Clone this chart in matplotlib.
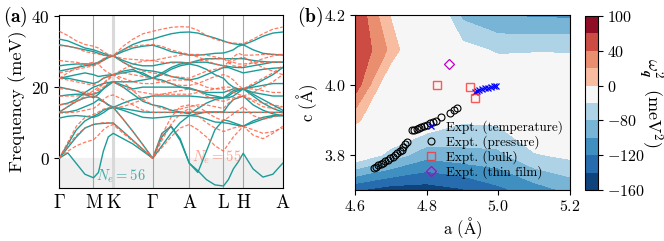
import numpy as np
import matplotlib
matplotlib.use('Agg')
import matplotlib.pyplot as plt

plt.rcParams['font.family'] = 'serif'
plt.rcParams['font.serif'] = ['cmr10', 'DejaVu Serif']
plt.rcParams['mathtext.fontset'] = 'cm'
plt.rcParams['axes.formatter.use_mathtext'] = True
plt.rcParams['axes.linewidth'] = 0.8

# ---------------- (a) phonon dispersion ----------------
kpt_labels = [r'$\Gamma$', 'M', 'K', r'$\Gamma$', 'A', 'L', 'H', 'A']
seg_len = [0.740, 0.427, 0.855, 0.791, 0.740, 0.427, 0.855]  # path lengths (1/A)

# values at 5 points per segment (ends shared): G-M, M-K, K-G, G-A, A-L, L-H, H-A
bands_56 = [
    [0, 1.5, -1.5, -4.5, -5.5, -4.0, 2.0, 6.0, 7.0, 5.5, 4.0, 2.0, 0, 6.0, 9.0, 5.5, -1.4, -3.5, -6.0, -7.5, -7.8, -6.0, -3.0, -1.0, 1.4, -3.0, -5.3, -4.5, -1.4],
    [0, 3.0, 6.0, 8.5, 9.5, 9.7, 9.8, 9.9, 9.9, 7.5, 5.0, 2.5, 0, 3.5, 7.0, 10.0, 12.0, 11.8, 11.0, 10.2, 10.0, 9.8, 9.5, 9.2, 9.0, 10.0, 11.0, 11.8, 12.0],
    [0, 4.0, 8.0, 10.5, 11.8, 12.5, 13.5, 14.0, 14.3, 11.0, 7.5, 3.8, 0, 7.0, 9.0, 5.0, -1.4, -4.0, 2.0, 8.0, 10.8, 10.5, 10.0, 9.5, 9.0, 10.5, 11.5, 12.0, 12.0],
    [11.3, 11.8, 12.0, 11.8, 11.5, 12.0, 12.8, 13.8, 14.3, 13.5, 12.5, 11.5, 11.3, 11.5, 11.8, 12.0, 12.0, 12.5, 13.0, 13.0, 13.0, 15.0, 16.5, 17.0, 17.5, 15.0, 13.5, 12.5, 12.0],
    [12.9, 13.0, 13.5, 14.5, 15.5, 16.5, 16.0, 15.0, 14.3, 14.0, 13.5, 13.0, 12.9, 12.9, 12.9, 12.9, 12.9, 12.9, 12.9, 12.9, 12.9, 12.9, 12.9, 12.9, 12.9, 12.9, 12.9, 12.9, 12.9],
    [13.0, 14.5, 16.0, 17.0, 17.5, 17.0, 16.0, 15.0, 14.3, 15.5, 16.5, 17.0, 17.5, 17.5, 17.5, 17.5, 17.5, 17.3, 17.0, 17.0, 17.0, 17.5, 18.5, 19.0, 19.5, 18.5, 18.0, 17.5, 17.5],
    [15.0, 15.5, 16.5, 18.5, 20.0, 20.5, 21.0, 21.3, 21.5, 20.0, 18.0, 16.0, 15.0, 14.5, 13.5, 13.0, 12.5, 14.0, 15.5, 16.5, 17.0, 18.0, 19.0, 19.3, 19.5, 17.5, 15.5, 14.0, 13.0],
    [17.5, 17.8, 18.0, 18.0, 18.0, 18.5, 19.5, 20.5, 21.5, 20.5, 19.5, 20.0, 20.0, 20.0, 20.0, 20.0, 19.8, 19.0, 18.5, 18.5, 18.5, 19.0, 19.5, 19.5, 19.5, 20.0, 20.5, 21.0, 21.0],
    [20.0, 19.5, 19.0, 18.0, 17.0, 18.0, 19.5, 21.0, 21.5, 21.5, 21.5, 22.0, 22.5, 23.5, 25.0, 26.0, 26.5, 26.0, 25.0, 23.5, 22.5, 21.0, 20.0, 19.5, 19.5, 20.5, 22.0, 23.5, 25.5],
    [22.5, 22.5, 22.0, 21.5, 21.0, 21.5, 22.5, 23.0, 23.5, 24.0, 24.5, 24.0, 22.5, 22.0, 21.0, 20.0, 19.5, 19.0, 18.0, 17.5, 17.0, 17.0, 17.5, 18.5, 19.5, 18.0, 16.5, 15.0, 13.5],
    [22.5, 23.0, 23.5, 24.0, 23.5, 23.0, 23.2, 23.4, 23.5, 24.5, 25.0, 23.5, 22.5, 24.0, 25.5, 26.5, 26.8, 27.0, 27.0, 26.5, 26.0, 25.8, 25.6, 25.5, 25.5, 26.0, 26.5, 27.0, 27.0],
    [24.5, 25.0, 25.5, 26.0, 26.3, 26.8, 27.5, 28.3, 28.8, 27.0, 25.5, 24.8, 24.5, 24.0, 23.0, 22.5, 22.0, 22.5, 23.5, 24.5, 25.5, 25.5, 25.0, 24.5, 24.0, 24.5, 25.0, 25.3, 25.5],
    [26.0, 26.3, 26.5, 26.5, 26.5, 27.0, 27.8, 28.5, 28.8, 27.5, 26.5, 26.0, 26.0, 26.5, 27.0, 27.0, 26.8, 27.5, 28.0, 28.0, 28.0, 28.0, 28.0, 28.0, 28.0, 27.5, 27.2, 27.0, 27.0],
    [31.9, 31.5, 31.0, 30.5, 30.0, 29.5, 29.0, 28.8, 28.8, 30.0, 31.0, 31.5, 31.8, 31.0, 30.0, 29.5, 29.0, 29.0, 29.2, 29.5, 29.6, 30.0, 30.5, 31.5, 31.9, 30.5, 29.5, 29.2, 29.0],
    [33.5, 33.0, 32.0, 31.0, 30.5, 30.0, 29.5, 29.0, 28.8, 30.5, 32.0, 33.0, 33.5, 34.3, 35.0, 35.4, 35.5, 35.2, 34.5, 33.8, 33.0, 32.5, 32.2, 32.0, 31.9, 33.0, 34.3, 35.2, 35.5],
]
bands_55 = [
    [0, 2.0, 3.5, 4.5, 5.2, 6.5, 8.0, 9.0, 9.5, 7.0, 4.8, 2.4, 0, 3.0, 6.0, 8.5, 9.5, 8.0, 6.0, 3.5, 2.0, 4.0, 6.0, 7.5, 9.0, 6.5, 5.5, 7.0, 9.0],
    [0, 3.5, 6.5, 8.5, 9.5, 9.8, 10.0, 10.0, 9.9, 7.5, 5.0, 2.5, 0, 5.0, 9.5, 12.5, 14.0, 12.0, 10.0, 8.5, 7.5, 8.0, 8.5, 8.8, 9.0, 8.0, 7.0, 7.5, 8.5],
    [0, 4.5, 9.0, 11.5, 12.3, 13.0, 13.8, 14.2, 14.3, 11.0, 7.5, 3.8, 0, 6.5, 11.5, 14.5, 15.0, 14.5, 13.0, 11.5, 10.5, 11.5, 12.5, 13.5, 14.5, 12.0, 11.0, 11.5, 12.5],
    [12.7, 12.8, 13.0, 13.5, 14.0, 15.0, 16.5, 17.5, 17.8, 16.5, 15.0, 13.5, 12.9, 12.9, 12.9, 12.9, 12.9, 12.9, 12.9, 12.9, 12.9, 12.9, 12.9, 12.9, 12.9, 12.9, 12.9, 12.9, 12.9],
    [12.9, 14.5, 16.0, 17.0, 17.5, 17.0, 16.0, 15.0, 14.3, 14.5, 15.5, 16.5, 17.5, 18.0, 18.5, 19.0, 19.5, 19.0, 17.5, 16.5, 16.0, 16.5, 17.0, 17.3, 17.5, 16.5, 15.5, 15.0, 14.5],
    [15.0, 15.3, 16.0, 17.5, 19.0, 20.0, 21.0, 22.0, 23.5, 21.5, 19.0, 16.5, 15.0, 14.0, 13.5, 13.8, 14.5, 15.0, 15.0, 14.5, 14.0, 15.5, 16.5, 17.0, 17.5, 16.0, 14.5, 14.0, 14.5],
    [17.5, 17.5, 17.5, 17.8, 18.0, 19.0, 20.0, 21.0, 21.5, 20.0, 19.0, 18.5, 18.0, 18.0, 18.0, 18.0, 18.0, 18.5, 19.0, 19.5, 20.0, 20.0, 19.8, 19.6, 19.5, 19.5, 19.0, 18.5, 18.5],
    [19.5, 19.5, 19.0, 18.5, 18.0, 19.5, 21.0, 22.5, 23.5, 22.5, 21.5, 21.0, 21.0, 21.5, 22.0, 22.0, 22.0, 21.0, 20.0, 19.5, 19.5, 19.0, 18.5, 18.0, 17.5, 18.5, 20.0, 21.5, 23.5],
    [22.5, 22.0, 21.5, 21.0, 20.5, 21.5, 22.5, 23.0, 23.5, 24.0, 23.5, 23.0, 22.5, 21.5, 21.0, 20.5, 20.5, 21.0, 22.0, 23.0, 23.5, 23.0, 22.0, 20.5, 19.5, 21.0, 22.5, 24.0, 26.0],
    [24.0, 24.5, 25.0, 25.5, 26.0, 26.5, 27.5, 28.3, 28.8, 27.0, 25.5, 24.5, 24.0, 23.5, 23.0, 22.8, 22.5, 23.5, 24.5, 25.0, 25.5, 26.5, 27.5, 28.0, 28.5, 27.0, 25.5, 24.5, 23.5],
    [22.5, 24.0, 25.5, 26.5, 27.0, 26.5, 25.0, 24.0, 23.5, 25.0, 26.5, 27.3, 27.5, 27.0, 26.8, 26.8, 26.8, 27.3, 27.8, 28.0, 28.0, 27.5, 27.0, 26.5, 26.5, 26.8, 27.0, 27.0, 27.0],
    [27.5, 27.2, 27.0, 26.5, 26.0, 27.0, 28.0, 28.6, 28.8, 28.0, 27.8, 27.6, 27.5, 28.0, 28.5, 29.0, 29.2, 29.2, 29.0, 28.5, 28.0, 27.0, 26.0, 25.8, 25.8, 27.0, 28.0, 28.8, 29.2],
    [31.7, 31.5, 31.0, 30.0, 29.5, 29.3, 29.0, 28.9, 28.8, 30.5, 31.5, 31.8, 32.0, 31.5, 30.5, 29.8, 29.2, 28.5, 27.5, 26.5, 26.0, 27.0, 28.5, 29.5, 29.0, 29.0, 29.2, 29.2, 29.2],
    [35.7, 34.5, 33.0, 32.0, 31.5, 31.0, 30.0, 29.2, 28.8, 31.5, 33.5, 35.0, 35.7, 36.3, 36.8, 37.0, 36.9, 36.0, 34.5, 33.5, 32.8, 32.6, 32.4, 32.3, 32.2, 33.5, 35.0, 36.3, 36.9],
]

# ---------------- (b) stability map ----------------
a_grid = [4.6, 4.7, 4.8, 4.9, 5.0, 5.1, 5.2]
c_grid = [3.7, 3.8, 3.9, 4.0, 4.1, 4.2]
omega2 = [
    [-138, -150, -150, -142, -125, -110, -95],
    [-40, -67, -93, -87, -85, -62, -55],
    [6, -30, -40, -57, -55, -35, -30],
    [53, -25, -35, -40, -40, -38, -40],
    [62, 15, -45, -52, -63, -62, -62],
    [60, -2, -20, -85, -100, -103, -104],
]
levels = [-160, -140, -120, -100, -80, -60, 0, 20, 40, 70, 100]

temp_a = [4.935, 4.94, 4.947, 4.955, 4.963, 4.972, 4.98, 4.987, 4.993]
temp_c = [3.981, 3.983, 3.985, 3.987, 3.99, 3.992, 3.994, 3.996, 3.998]
pres_a = [4.652, 4.658, 4.665, 4.672, 4.678, 4.685, 4.692, 4.698, 4.705, 4.712, 4.718, 4.725,
          4.73, 4.735, 4.74, 4.745, 4.758, 4.765, 4.772, 4.778, 4.785, 4.792, 4.80, 4.81,
          4.818, 4.826, 4.84, 4.865, 4.875, 4.885]
pres_c = [3.763, 3.766, 3.77, 3.774, 3.778, 3.782, 3.786, 3.79, 3.795, 3.80, 3.805, 3.81,
          3.815, 3.822, 3.83, 3.838, 3.872, 3.872, 3.875, 3.877, 3.88, 3.883, 3.886, 3.89,
          3.894, 3.898, 3.908, 3.92, 3.928, 3.935]
bulk_a = [4.83, 4.921, 4.935]
bulk_c = [3.999, 3.993, 3.964]
film_a = [4.861]
film_c = [4.059]

fig = plt.figure(figsize=(6.64, 2.41), dpi=100)
ax1 = fig.add_axes([0.0893, 0.218, 0.3365, 0.72])
ax2 = fig.add_axes([0.5346, 0.212, 0.3238, 0.726])
cax = fig.add_axes([0.881, 0.212, 0.0196, 0.722])

# k-path
nodes = np.concatenate([[0], np.cumsum(seg_len)])
kx = np.concatenate([np.linspace(nodes[i], nodes[i + 1], 5)[(1 if i else 0):] for i in range(len(seg_len))])

ax1.axhspan(-20, 0, color='#f0f0f0', zorder=0)
for i, xn in enumerate(nodes):
    if i == 2:
        ax1.axvline(xn, color='0.85', lw=2.2, zorder=1)
    else:
        ax1.axvline(xn, color='0.65', lw=0.8, zorder=1)

for b in bands_56:
    ax1.plot(kx, b, color='#1c9c98', lw=1.0, zorder=3)
for b in bands_55:
    ax1.plot(kx, b, color='tomato', lw=0.9, ls='--', dashes=(3, 1.5), alpha=0.85, zorder=4)

ax1.text(1.334, -5.2, r'$N_e = 56$', color='#1c9c98', fontsize=10.5, ha='center', va='center', alpha=0.8)
ax1.text(3.414, 0.2, r'$N_e = 55$', color='tomato', fontsize=10.5, ha='center', va='center', alpha=0.6)

ax1.set_xlim(nodes[0], nodes[-1])
ax1.set_ylim(-8.5, 40.3)
ax1.set_xticks(nodes)
ax1.set_xticklabels(kpt_labels, fontsize=13.5)
ax1.tick_params(axis='x', length=0, pad=4)
ax1.set_yticks([0, 20, 40])
ax1.tick_params(axis='y', labelsize=12.5, length=3.5, direction='out')
ax1.set_ylabel('Frequency (meV)', fontsize=13.3, labelpad=3)

# stability map
cf = ax2.contourf(a_grid, c_grid, omega2, levels=levels, cmap='RdBu_r', vmin=-160, vmax=100)
ax2.plot(temp_a, temp_c, ls='none', marker='x', color='b', ms=5, mew=0.9, label='Expt. (temperature)')
ax2.plot(pres_a, pres_c, ls='none', marker='o', mfc='none', mec='k', ms=5, mew=0.8, label='Expt. (pressure)')
ax2.plot(bulk_a, bulk_c, ls='none', marker='s', mfc='none', mec='#ff3030', ms=5.5, mew=1.0, alpha=0.8, label='Expt. (bulk)')
ax2.plot(film_a, film_c, ls='none', marker='D', mfc='none', mec='m', ms=5.5, mew=0.9, label='Expt. (thin film)')
ax2.legend(loc='lower left', bbox_to_anchor=(0.325, 0.06), frameon=False, fontsize=9.5,
           borderpad=0, borderaxespad=0, handlelength=1.0, handletextpad=0.6, labelspacing=0.1)
ax2.set_xlim(4.6, 5.2)
ax2.set_ylim(3.7, 4.2)
ax2.set_xticks([4.6, 4.8, 5.0, 5.2])
ax2.set_yticks([3.8, 4.0, 4.2])
ax2.tick_params(labelsize=11.5, length=3.5, pad=3)
ax2.set_xlabel(r'a ($\mathrm{\AA}$)', fontsize=12, labelpad=1)
ax2.set_ylabel(r'c ($\mathrm{\AA}$)', fontsize=12, labelpad=3)

cb = fig.colorbar(cf, cax=cax)
cb.ax.tick_params(labelsize=11.5, length=3.5, pad=3)
cb.outline.set_linewidth(0.8)
cb.set_label(r'$\omega_{\boldsymbol{q}}^2\ \ (\mathrm{meV}^2)$', fontsize=13, rotation=270, labelpad=14)

fig.text(0.005, 0.91, r'$\mathbf{(a)}$', fontsize=14)
fig.text(0.447, 0.91, r'$\mathbf{(b)}$', fontsize=14)

fig.savefig('out.png', dpi=100)
